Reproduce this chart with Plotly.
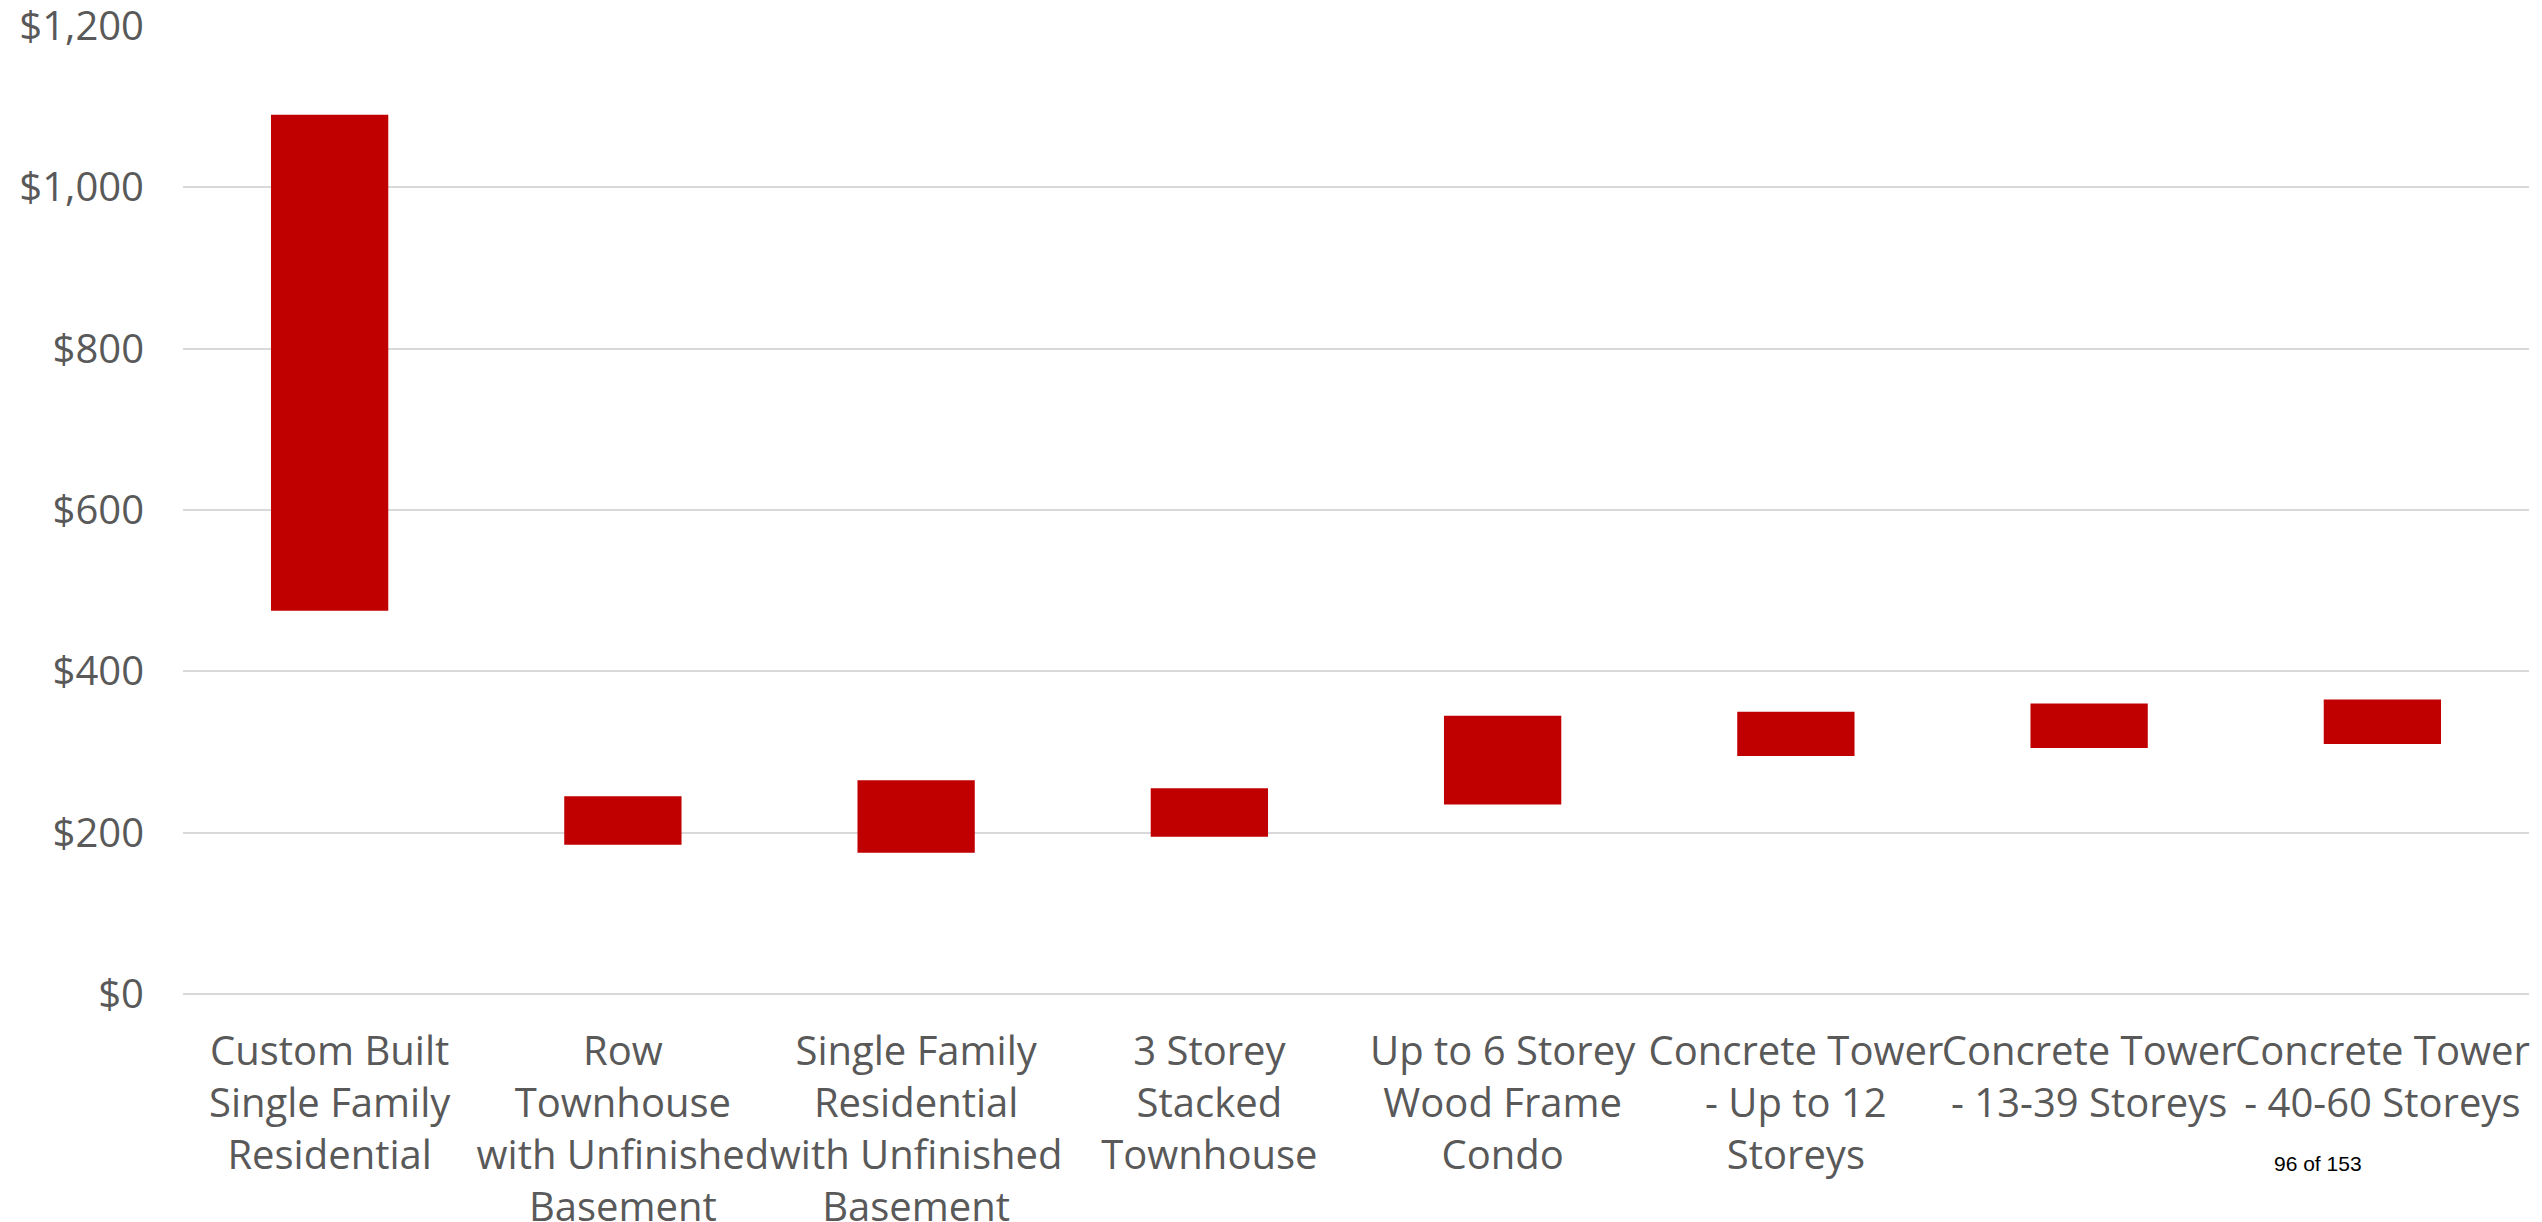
import plotly.graph_objects as go

categories = [
    "Custom Built<br>Single Family<br>Residential",
    "Row<br>Townhouse<br>with Unfinished<br>Basement",
    "Single Family<br>Residential<br>with Unfinished<br>Basement",
    "3 Storey<br>Stacked<br>Townhouse",
    "Up to 6 Storey<br>Wood Frame<br>Condo",
    "Concrete Tower<br>- Up to 12<br>Storeys",
    "Concrete Tower<br>- 13-39 Storeys",
    "Concrete Tower<br>- 40-60 Storeys",
]
low_values = [475, 185, 175, 195, 235, 295, 305, 310]
high_values = [1090, 245, 265, 255, 345, 350, 360, 365]

heights = [h - l for h, l in zip(high_values, low_values)]

TEXT = "#595959"
FONT = "Open Sans, Liberation Sans, Arial, sans-serif"

fig = go.Figure()
fig.add_trace(go.Bar(
    x=categories,
    y=heights,
    base=low_values,
    marker=dict(color="#C00000", line=dict(width=0)),
    hoverinfo="skip",
))

fig.update_layout(
    width=2542,
    height=1222,
    margin=dict(l=183, r=13, t=26, b=228),
    paper_bgcolor="white",
    plot_bgcolor="white",
    bargap=0.6,
    showlegend=False,
    font=dict(family=FONT, color=TEXT, size=40),
    xaxis=dict(
        showgrid=False,
        showline=False,
        ticks="",
        tickfont=dict(size=40, color=TEXT, family=FONT),
        ticklabelstandoff=30,
        tickangle=0,
        automargin=False,
        ticklabeloverflow="allow",
    ),
    yaxis=dict(
        range=[0, 1200],
        dtick=200,
        tick0=0,
        tickprefix="$",
        tickformat=",",
        showgrid=True,
        gridcolor="#D9D9D9",
        gridwidth=2,
        zeroline=True,
        zerolinecolor="#D9D9D9",
        zerolinewidth=2,
        showline=False,
        ticks="",
        tickfont=dict(size=40, color=TEXT, family=FONT),
        ticklabelstandoff=38,
        automargin=False,
        ticklabeloverflow="allow",
    ),
)

fig.add_annotation(
    text="96 of 153",
    xref="paper", yref="paper",
    x=(2318 - 183) / 2346, y=-(1163 - 994) / 968,
    showarrow=False,
    font=dict(size=21, color="#000000", family="Liberation Sans, Arial, sans-serif"),
    xanchor="center", yanchor="middle",
)

fig.write_html("out.html")
